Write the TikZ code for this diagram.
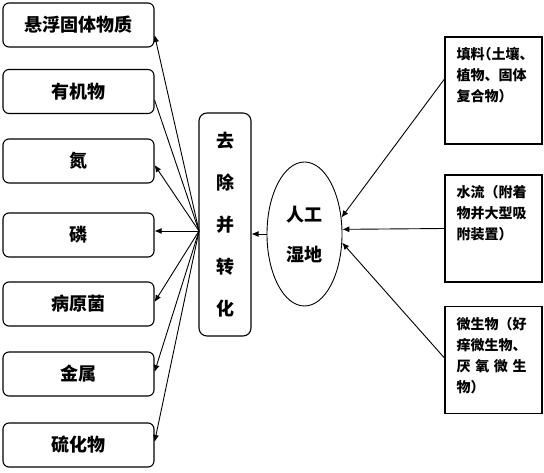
\documentclass[tikz,border=0pt]{standalone}
\usepackage{fontspec}
\newfontfamily\cjk{Noto Sans CJK SC}
\newfontfamily\cjkhalt{Noto Sans CJK SC}[RawFeature=+halt]
\usetikzlibrary{shapes.geometric,arrows.meta}
\tikzset{
  leftbox/.style={draw, line width=1.1pt, rounded corners=6pt, minimum width=151pt,
    minimum height=44pt, inner sep=0pt, font=\cjk\bfseries\fontsize{18}{20}\selectfont},
  midbox/.style={draw, line width=1.1pt, rounded corners=8pt, minimum width=52pt,
    minimum height=223pt, inner sep=0pt, align=center,
    font=\cjk\bfseries\fontsize{18}{42}\selectfont},
  wetland/.style={draw, ellipse, line width=0.9pt, minimum width=75pt,
    minimum height=144pt, inner sep=0pt, align=center,
    font=\cjk\bfseries\fontsize{18}{40}\selectfont},
  rightbox/.style={draw, line width=1.1pt, minimum width=97pt, minimum height=107pt,
    inner sep=0pt},
  boxtext/.style={anchor=north west, inner sep=0pt, align=left,
    font=\cjk\bfseries\fontsize{14}{21}\selectfont},
  conn/.style={line width=0.9pt, -{Latex[length=7pt,width=6pt]}}
}
\begin{document}
\begin{tikzpicture}[x=1pt, y=-1pt]
  \useasboundingbox (0,0) rectangle (544,473);
  % removed substances
  \node[leftbox] (l1) at (78.5,25) {悬浮固体物质};
  \node[leftbox] (l2) at (78.5,91.5) {有机物};
  \node[leftbox] (l3) at (78.5,161) {氮};
  \node[leftbox] (l4) at (78.5,235) {磷};
  \node[leftbox] (l5) at (78.5,304) {病原菌};
  \node[leftbox] (l6) at (78.5,374) {金属};
  \node[leftbox] (l7) at (78.5,445) {硫化物};
  % middle
  \node[midbox] (mid) at (225,224.5) {去\\除\\并\\转\\化};
  \node[wetland] (wet) at (304.5,234) {人工\\湿地};
  % components
  \node[rightbox] (r1) at (493.5,90.5) {};
  \node[boxtext] (t1) at ([xshift=12pt,yshift=-11pt]r1.north west)
    {填料{\cjkhalt\bfseries（}土壤、\\植物、固体\\复合物）};
  \node[rightbox] (r2) at (493.5,228.5) {};
  \node[boxtext] (t2) at ([xshift=12pt,yshift=-11pt]r2.north west)
    {水流（附着\\物并大型吸\\附装置）};
  \node[rightbox] (r3) at (493.5,360) {};
  \node[boxtext] (t3) at ([xshift=12pt,yshift=-11pt]r3.north west)
    {微生物（好\\痒微生物、\\\makebox[70pt][s]{厌\hfil 氧\hfil 微\hfil 生}\\物）};
  % connectors
  \coordinate (hub) at (199,231);
  \draw[conn] (hub) -- ([yshift=-10pt]l1.east);
  \draw[line width=0.9pt] (hub) -- ([yshift=-8.5pt]l2.east);
  \draw[conn] (hub) -- ([yshift=-4pt]l3.east);
  \draw[conn] (hub) -- ([yshift=4pt]l4.east);
  \draw[conn] (hub) -- ([yshift=2pt]l5.east);
  \draw[conn] (hub) -- ([yshift=2pt]l6.east);
  \draw[conn] (hub) -- ([yshift=3pt]l7.east);
  \draw[conn] (wet.west) -- (wet.west -| mid.east);
  \draw[conn] ([yshift=11.5pt]r1.west) -- (wet.24);
  \draw[conn] (r2.west) -- (wet.7);
  \draw[conn] ([yshift=2pt]r3.west) -- (wet.-13);
\end{tikzpicture}
\end{document}
